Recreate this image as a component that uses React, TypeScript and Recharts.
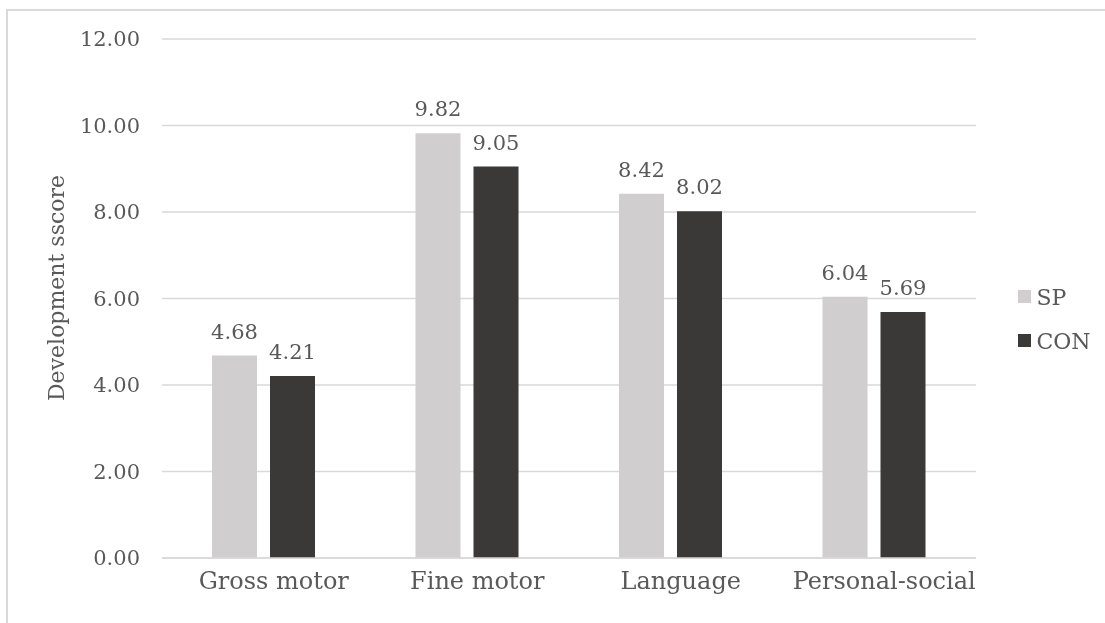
import React from 'react';
import { BarChart, Bar, XAxis, YAxis, CartesianGrid, LabelList } from 'recharts';

const categories = ['Gross motor', 'Fine motor', 'Language', 'Personal\u2010social'];
const spValues = [4.68, 9.82, 8.42, 6.04];
const conValues = [4.21, 9.05, 8.02, 5.69];
const yTicks = [0, 2, 4, 6, 8, 10, 12];
const seriesNames = ['SP', 'CON'];
const seriesKeys = ['sp', 'con'];
const seriesColors = ['#d0cece', '#3b3838'];

const data = categories.map((c, i) => ({ name: c, sp: spValues[i], con: conValues[i] }));

const FONT = '"DejaVu Serif", serif';
const TEXT = '#595959';
const GRID = '#d9d9d9';

const XTick = (props: any) => {
  const { x, y, payload } = props;
  return (
    <text x={x + 10} y={y} dy="0.71em" textAnchor="middle" fontFamily={FONT} fontSize={24} fill={TEXT}>
      {payload.value}
    </text>
  );
};

export default function App() {
  return (
    <div style={{ position: 'relative', width: 1097, height: 615 }}>
      <div
        style={{
          position: 'fixed',
          left: 6,
          top: 9,
          width: 1300,
          height: 800,
          boxSizing: 'border-box',
          borderTop: `2px solid ${GRID}`,
          borderLeft: `2px solid ${GRID}`,
          pointerEvents: 'none',
        }}
      />
      <div style={{ position: 'absolute', left: 0, top: 0 }}>
        <BarChart
          width={1097}
          height={615}
          data={data}
          margin={{ top: 31, right: 129, left: 0, bottom: 25 }}
          barSize={45}
          barGap={13}
        >
          <CartesianGrid vertical={false} stroke={GRID} strokeWidth={1.4} />
          <XAxis
            dataKey="name"
            axisLine={{ stroke: GRID, strokeWidth: 1.4 }}
            tickLine={false}
            tickSize={0}
            tickMargin={14}
            height={40}
            interval={0}
            tick={<XTick />}
          />
          <YAxis
            domain={[0, 12]}
            ticks={yTicks}
            width={154}
            axisLine={false}
            tickLine={false}
            tickSize={0}
            tickMargin={22}
            tickFormatter={(v: number) => v.toFixed(2)}
            tick={{ fontFamily: FONT, fontSize: 21, fill: TEXT }}
            label={{
              content: () => (
                <text
                  x={48}
                  y={280}
                  transform="rotate(-90 48 280)"
                  textAnchor="middle"
                  dominantBaseline="central"
                  fontFamily={FONT}
                  fontSize={22}
                  fill={TEXT}
                >
                  Development sscore
                </text>
              ),
            }}
          />
          {seriesKeys.map((k, i) => (
            <Bar key={k} dataKey={k} name={seriesNames[i]} fill={seriesColors[i]} isAnimationActive={false}>
              <LabelList
                dataKey={k}
                position="top"
                offset={17}
                formatter={(v: any) => Number(v).toFixed(2)}
                style={{ fontFamily: FONT, fontSize: 21, fill: TEXT }}
              />
            </Bar>
          ))}
        </BarChart>
      </div>
      <svg style={{ position: 'absolute', left: 0, top: 0 }} width={1097} height={615}>
        {seriesNames.map((n, i) => (
          <g key={n}>
            <rect x={1010} y={282 + i * 44} width={13} height={13} fill={seriesColors[i]} />
            <text x={1028.5} y={297 + i * 44} fontFamily={FONT} fontSize={22} fill={TEXT}>
              {n}
            </text>
          </g>
        ))}
      </svg>
    </div>
  );
}
